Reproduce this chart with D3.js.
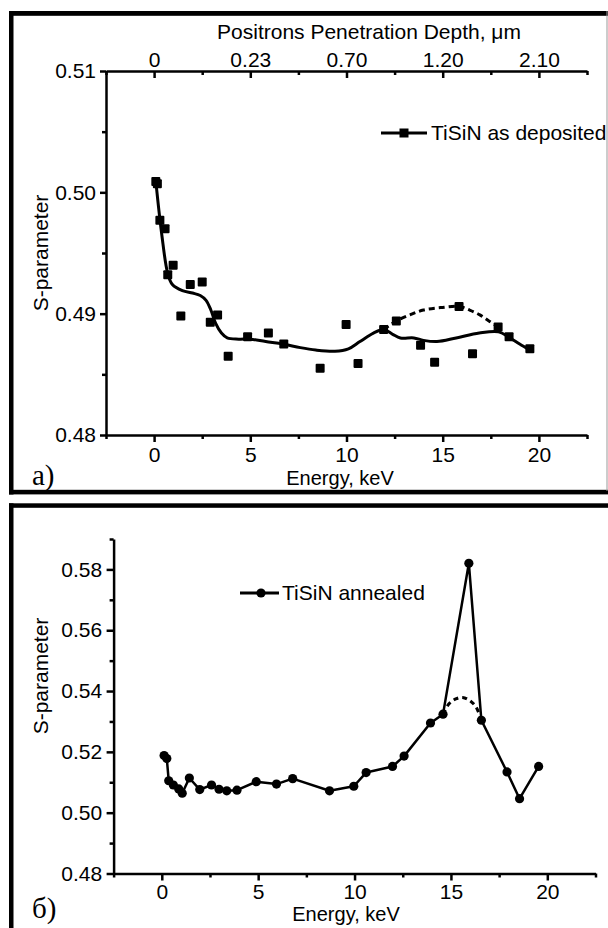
<!DOCTYPE html>
<html>
<head>
<meta charset="utf-8">
<script src="https://cdn.jsdelivr.net/npm/d3@7"></script>
<style>
  html, body { margin: 0; padding: 0; background: #fff; }
  svg { display: block; }
  .ax path, .ax line { stroke: #000; stroke-width: 2.5; }
  .ax text { font-family: "Liberation Sans", Arial, sans-serif; font-size: 21px; fill: #000; }
  .lbl { font-family: "Liberation Sans", Arial, sans-serif; font-size: 21px; fill: #000; }
  .xt { font-size: 20px; }
  .tag { font-family: "Liberation Serif", "Times New Roman", serif; font-size: 29px; fill: #000; }
</style>
</head>
<body>
<script>
// ---- Panel (a): TiSiN as deposited ----
const energyA = [0.09, 0.17, 0.30, 0.57, 0.71, 0.99, 1.39, 1.88, 2.50, 2.92, 3.30, 3.85, 4.86, 5.94,
                 6.74, 8.63, 9.98, 10.60, 11.93, 12.59, 13.85, 14.58, 15.85, 16.55, 17.88, 18.45, 19.53];
const sDeposited = [0.5009, 0.5007, 0.4977, 0.4970, 0.4932, 0.4940, 0.4898, 0.4924, 0.4926, 0.4893, 0.4899,
                    0.4865, 0.4881, 0.4884, 0.4875, 0.4855, 0.4891, 0.4859, 0.4887, 0.4894, 0.4874, 0.4860,
                    0.4906, 0.4867, 0.4889, 0.4881, 0.4871];
// smoothed trend line through the deposited data
const fitEnergyA = [0.09, 0.4, 0.71, 0.95, 1.47, 2.0, 2.4, 2.7, 2.95, 3.2, 3.5, 3.8, 4.4, 5.0, 5.8, 6.7, 7.6,
                    8.4, 9.4, 10.1, 10.7, 11.4, 11.93, 12.4, 12.8, 13.5, 14.0, 14.7, 15.7, 16.9, 17.9, 18.5, 19.0, 19.53];
const fitSA = [0.5009, 0.4965, 0.4933, 0.4924, 0.4919, 0.4917, 0.4915, 0.4911, 0.4903, 0.4892, 0.4884, 0.4880,
               0.4879, 0.4879, 0.4877, 0.4875, 0.4872, 0.4870, 0.4869, 0.4871, 0.4877, 0.4884, 0.4887, 0.4883,
               0.4880, 0.4880, 0.4878, 0.4877, 0.4880, 0.4884, 0.4885, 0.4880, 0.4875, 0.4870];
// dashed alternative branch between 12 and 18 keV
const dashEnergyA = [11.93, 12.59, 13.3, 14.0, 14.9, 15.85, 16.4, 16.93, 17.4, 17.88];
const dashSA = [0.4887, 0.4894, 0.4899, 0.4903, 0.4905, 0.4906, 0.4903, 0.4899, 0.4894, 0.4889];

// ---- Panel (б): TiSiN annealed ----
const energyB = [0.12, 0.26, 0.36, 0.60, 0.88, 1.06, 1.43, 1.97, 2.58, 2.97, 3.37, 3.90, 4.90, 5.95,
                 6.79, 8.70, 9.96, 10.60, 11.97, 12.57, 13.94, 14.59, 15.93, 16.58, 17.91, 18.56, 19.55];
const sAnnealed = [0.5188, 0.5178, 0.5105, 0.5091, 0.5078, 0.5064, 0.5114, 0.5076, 0.5091, 0.5077, 0.5072,
                   0.5074, 0.5102, 0.5094, 0.5112, 0.5072, 0.5087, 0.5132, 0.5152, 0.5186, 0.5295, 0.5324,
                   0.5820, 0.5304, 0.5134, 0.5046, 0.5152];
const dashEnergyB = [14.59, 14.9, 15.25, 15.6, 15.95, 16.3, 16.58];
const dashSB = [0.5324, 0.5358, 0.5374, 0.5379, 0.5370, 0.5348, 0.5304];

// ---- axis ticks ----
const energyMajor = [0, 5, 10, 15, 20];
const energyMinor = [-2.5, 2.5, 7.5, 12.5, 17.5, 22.5];
const depthLabels = ["0", "0.23", "0.70", "1.20", "2.10"];
const yMajorA = [0.48, 0.49, 0.50, 0.51];
const yMinorA = [0.485, 0.495, 0.505];
const yMajorB = [0.48, 0.50, 0.52, 0.54, 0.56, 0.58];
const yMinorB = [0.49, 0.51, 0.53, 0.55, 0.57, 0.59];

const svg = d3.select("body").append("svg").attr("width", 608).attr("height", 928);

// frames
function bar(x, y, w, h, fill) {
  svg.append("rect").attr("x", x).attr("y", y).attr("width", w).attr("height", h).attr("fill", fill || "#000");
}
bar(9, 11, 599, 4.8);
bar(9, 11, 4.5, 483.5);
bar(9, 489.8, 599, 4.6);
bar(606.5, 11, 1, 480, "#999");
bar(9, 503.3, 599, 4.5);
bar(9, 503.3, 4.5, 425);

// ---------- panel (a) ----------
const xA = d3.scaleLinear().domain([-2.5, 22.5]).range([106, 587]);
const yA = d3.scaleLinear().domain([0.48, 0.51]).range([435, 71]);
const gA = svg.append("g");

gA.append("g").attr("class", "ax").attr("transform", "translate(0,435)")
  .call(d3.axisBottom(xA).tickValues(energyMajor).tickFormat(d3.format("d")).tickSize(7).tickSizeOuter(0).tickPadding(5.5));
gA.append("g").attr("class", "ax").attr("transform", "translate(0,435)")
  .call(d3.axisBottom(xA).tickValues(energyMinor).tickFormat("").tickSize(4).tickSizeOuter(0))
  .select(".domain").remove();

gA.append("g").attr("class", "ax").attr("transform", "translate(0,71)")
  .call(d3.axisTop(xA).tickValues(energyMajor).tickFormat((d, i) => depthLabels[i]).tickSize(-7).tickSizeOuter(0).tickPadding(4));
gA.append("g").attr("class", "ax").attr("transform", "translate(0,71)")
  .call(d3.axisTop(xA).tickValues(energyMinor).tickFormat("").tickSize(-4).tickSizeOuter(0))
  .select(".domain").remove();

gA.append("g").attr("class", "ax").attr("transform", "translate(106,0)")
  .call(d3.axisLeft(yA).tickValues(yMajorA).tickFormat(d3.format(".2f")).tickSize(6).tickSizeOuter(0).tickPadding(4));
gA.append("g").attr("class", "ax").attr("transform", "translate(106,0)")
  .call(d3.axisLeft(yA).tickValues(yMinorA).tickFormat("").tickSize(4).tickSizeOuter(0))
  .select(".domain").remove();

const fitLineA = d3.line().x(d => xA(d[0])).y(d => yA(d[1])).curve(d3.curveCatmullRom.alpha(0.5));
gA.append("path").datum(d3.zip(fitEnergyA, fitSA)).attr("d", fitLineA)
  .attr("fill", "none").attr("stroke", "#000").attr("stroke-width", 3);
gA.append("path").datum(d3.zip(dashEnergyA, dashSA)).attr("d", fitLineA)
  .attr("fill", "none").attr("stroke", "#000").attr("stroke-width", 3).attr("stroke-dasharray", "6,4");

gA.selectAll("rect.pt").data(d3.zip(energyA, sDeposited)).join("rect").attr("class", "pt")
  .attr("x", d => xA(d[0]) - 4.5).attr("y", d => yA(d[1]) - 4.5)
  .attr("width", 9).attr("height", 9).attr("rx", 1).attr("fill", "#000");

// legend (a)
gA.append("line").attr("x1", 381).attr("x2", 427).attr("y1", 133).attr("y2", 133)
  .attr("stroke", "#000").attr("stroke-width", 3);
gA.append("rect").attr("x", 399.5).attr("y", 128.5).attr("width", 9).attr("height", 9).attr("fill", "#000");
gA.append("text").attr("class", "lbl").attr("x", 431).attr("y", 140).text("TiSiN as deposited");

gA.append("text").attr("class", "lbl").attr("x", 369).attr("y", 39).attr("text-anchor", "middle")
  .text("Positrons Penetration Depth, \u03BCm");
gA.append("text").attr("class", "lbl xt").attr("x", 340).attr("y", 485).attr("text-anchor", "middle").text("Energy, keV");
gA.append("text").attr("class", "lbl").attr("text-anchor", "middle")
  .attr("transform", "translate(48,253) rotate(-90)").text("S-parameter");
gA.append("text").attr("class", "tag").attr("x", 32).attr("y", 485).text("a)");

// ---------- panel (б) ----------
const xB = d3.scaleLinear().domain([-2.5, 22.5]).range([113.6, 595.5]);
const yB = d3.scaleLinear().domain([0.48, 0.59]).range([873.5, 539]);
const gB = svg.append("g");

gB.append("g").attr("class", "ax").attr("transform", "translate(0,873.5)")
  .call(d3.axisBottom(xB).tickValues(energyMajor).tickFormat(d3.format("d")).tickSize(7).tickSizeOuter(0).tickPadding(4));
gB.append("g").attr("class", "ax").attr("transform", "translate(0,873.5)")
  .call(d3.axisBottom(xB).tickValues(energyMinor).tickFormat("").tickSize(4).tickSizeOuter(0))
  .select(".domain").remove();

gB.append("g").attr("class", "ax").attr("transform", "translate(113.6,0)")
  .call(d3.axisLeft(yB).tickValues(yMajorB).tickFormat(d3.format(".2f")).tickSize(7).tickSizeOuter(0).tickPadding(4.5));
gB.append("g").attr("class", "ax").attr("transform", "translate(113.6,0)")
  .call(d3.axisLeft(yB).tickValues(yMinorB).tickFormat("").tickSize(4).tickSizeOuter(0))
  .select(".domain").remove();

const polyB = d3.line().x(d => xB(d[0])).y(d => yB(d[1]));
gB.append("path").datum(d3.zip(energyB, sAnnealed)).attr("d", polyB)
  .attr("fill", "none").attr("stroke", "#000").attr("stroke-width", 2.5).attr("stroke-linejoin", "round");
gB.append("path").datum(d3.zip(dashEnergyB, dashSB))
  .attr("d", d3.line().x(d => xB(d[0])).y(d => yB(d[1])).curve(d3.curveCatmullRom.alpha(0.5)))
  .attr("fill", "none").attr("stroke", "#000").attr("stroke-width", 3).attr("stroke-dasharray", "5,4");

gB.selectAll("circle.pt").data(d3.zip(energyB, sAnnealed)).join("circle").attr("class", "pt")
  .attr("cx", d => xB(d[0])).attr("cy", d => yB(d[1])).attr("r", 4.6).attr("fill", "#000");

// legend (б)
gB.append("line").attr("x1", 240).attr("x2", 279).attr("y1", 593).attr("y2", 593)
  .attr("stroke", "#000").attr("stroke-width", 3);
gB.append("circle").attr("cx", 261).attr("cy", 593).attr("r", 4.6).attr("fill", "#000");
gB.append("text").attr("class", "lbl").attr("x", 282).attr("y", 600).text("TiSiN annealed");

gB.append("text").attr("class", "lbl xt").attr("x", 346).attr("y", 921).attr("text-anchor", "middle").text("Energy, keV");
gB.append("text").attr("class", "lbl").attr("text-anchor", "middle")
  .attr("transform", "translate(48,676) rotate(-90)").text("S-parameter");
gB.append("text").attr("class", "tag").attr("x", 32).attr("y", 918).text("б)");
</script>
</body>
</html>
